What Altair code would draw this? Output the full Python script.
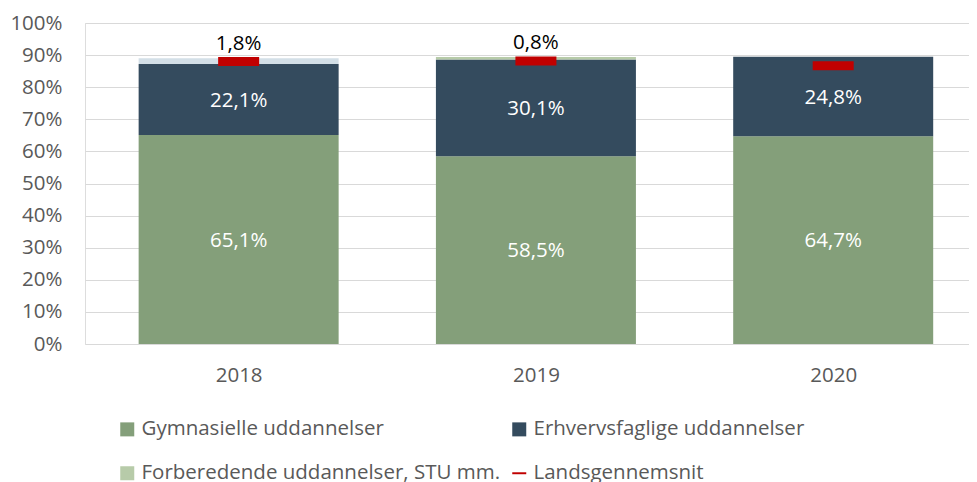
import altair as alt
import pandas as pd

years = [2018, 2019, 2020]
series = ["Gymnasielle uddannelser", "Erhvervsfaglige uddannelser", "Forberedende uddannelser, STU mm."]
avg_name = "Landsgennemsnit"
gym = [65.1, 58.5, 64.7]
erh = [22.1, 30.1, 24.8]
forb = [1.8, 0.8, 0.0]
lands = [88.0, 88.2, 86.7]
colors = ["#849f7a", "#344b5e", "#b7cba9", "#c00000"]
y_ticks = list(range(0, 101, 10))

FONT = "Open Sans"
FS = 20.5
GREY = "#595959"


def fmt(v):
    return f"{v:.1f}".replace(".", ",") + "%"


rows = []
for i, yr in enumerate(years):
    for k, (s, vals) in enumerate(zip(series, [gym, erh, forb])):
        rows.append(dict(year=yr, serie=s, order=k, value=vals[i], label=fmt(vals[i])))
df = pd.DataFrame(rows)
df_avg = pd.DataFrame(dict(year=years, serie=avg_name, value=lands))

x_enc = alt.X(
    "year:Q",
    title=None,
    scale=alt.Scale(domain=[2017.5, 2020.44], nice=False, zero=False),
    axis=alt.Axis(values=years, format="d", grid=False, ticks=False, domain=False,
                  labelPadding=31, labelBaseline="middle", labelFontSize=FS,
                  labelColor=GREY, labelFont=FONT),
)

y_scale = alt.Scale(domain=[0, 100], nice=False)
y_axis = alt.Axis(values=y_ticks, tickCount=11, labelExpr="datum.value + '%'", grid=True,
                  gridColor="#d9d9d9", gridWidth=1.2, domain=False, ticks=False,
                  labelOverlap=False, labelPadding=23, labelFontSize=FS,
                  labelColor=GREY, labelFont=FONT)


def y_enc(field):
    return alt.Y(field, title=None, scale=y_scale, axis=y_axis)


base = (
    alt.Chart(df)
    .transform_stack(stack="value", as_=["y0", "y1"], groupby=["year"],
                     sort=[alt.SortField("order", order="ascending")])
    .transform_calculate(mid="(datum.y0 + datum.y1) / 2")
)

legend = alt.Legend(
    title=None, orient="none", legendX=32, legendY=396, columns=2, direction="horizontal",
    symbolType=alt.ExprRef(expr="datum.value === 'Landsgennemsnit' ? 'M-1,-0.14L1,-0.14L1,0.14L-1,0.14Z' : 'square'"),
    symbolSize=196, symbolStrokeWidth=0, symbolOffset=0, padding=0,
    labelFont=FONT, labelFontSize=FS, labelColor=GREY, labelLimit=700,
    labelOffset=4, columnPadding=8, rowPadding=23,
)

bars = base.mark_bar(size=200).encode(
    x=x_enc,
    y=y_enc("y0:Q"),
    y2="y1:Q",
    color=alt.condition(
        "datum.year == 2018 && datum.order == 2",
        alt.value("#d3dfe7"),
        alt.Color("serie:N", scale=alt.Scale(domain=series + [avg_name], range=colors), legend=legend),
    ),
)

inner = base.transform_filter("datum.order < 2").mark_text(
    color="white", font=FONT, fontSize=FS, baseline="middle", dy=1
).encode(x=x_enc, y=y_enc("mid:Q"), text="label:N")

top = base.transform_filter("datum.order == 2 && datum.value > 0").mark_text(
    color="black", font=FONT, fontSize=FS, baseline="alphabetic", dy=-8
).encode(x=x_enc, y=y_enc("y1:Q"), text="label:N")

avg = alt.Chart(df_avg).mark_tick(orient="horizontal", size=41, thickness=9,
                                  color="#c00000", opacity=1).encode(
    x=x_enc, y=y_enc("value:Q")
)

chart = (
    alt.layer(bars, inner, top, avg)
    .properties(width=884, height=321,
                padding={"left": 77, "top": 15, "right": 0, "bottom": 138},
                autosize=alt.AutoSizeParams(type="none"))
    .configure_view(stroke=None)
    .configure(background="white")
)

chart.save("out.html", embed_options={"renderer": "svg", "actions": False})
